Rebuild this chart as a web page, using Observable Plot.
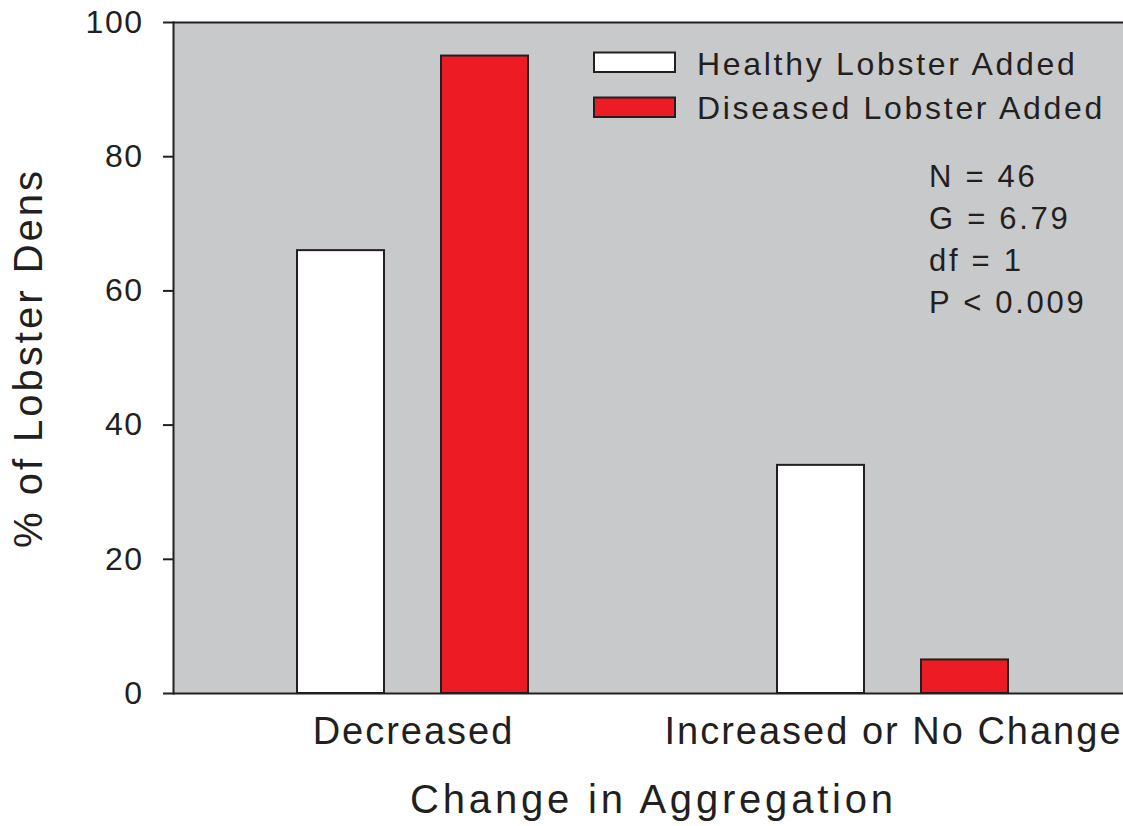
<!DOCTYPE html>
<html><head><meta charset="utf-8">
<script src="https://cdn.jsdelivr.net/npm/d3@7"></script>
<script src="https://cdn.jsdelivr.net/npm/@observablehq/plot@0.6"></script>
<style>
html,body{margin:0;padding:0;background:#fff;overflow:hidden;}
#wrap{position:relative;width:1123px;height:826px;overflow:hidden;}
#wrap svg{position:absolute;left:0;top:0;max-width:none !important;}
g[aria-label="y-axis tick label"] text{letter-spacing:1.5px;}
g[aria-label="fx-axis tick label"] text{letter-spacing:2px;}
g[aria-label="fx-axis label"] text{letter-spacing:3.8px;}
g[aria-label="y-axis label"] text{letter-spacing:3px;}
g[aria-label="frame"] rect{shape-rendering:crispEdges;}
</style></head><body><div id="wrap"></div>
<script>
// ---- data ----
const changes = ["Decreased", "Increased or No Change"];
const treatments = ["Healthy Lobster Added", "Diseased Lobster Added"];
const healthyValues = [66, 34];
const diseasedValues = [95, 5];
const treatmentColors = ["#ffffff", "#ed1c24"];
const yTicks = [0, 20, 40, 60, 80, 100];
const statsLines = ["N = 46", "G = 6.79", "df = 1", "P < 0.009"];

const data = [];
changes.forEach((c, i) => {
  data.push({change: c, treatment: treatments[0], pct: healthyValues[i]});
  data.push({change: c, treatment: treatments[1], pct: diseasedValues[i]});
});

const ink = "#231f20";
const font = "'Liberation Sans', Arial, sans-serif";

const chart = Plot.plot({
  width: 1133, height: 826,
  marginLeft: 173, marginRight: 0, marginTop: 22, marginBottom: 133,
  style: {fontFamily: font, color: ink, background: "transparent", overflow: "visible", maxWidth: "none"},
  fx: {domain: changes, padding: 0},
  x: {domain: treatments, paddingInner: 0.3945, paddingOuter: 0.858, axis: null},
  y: {domain: [0, 100]},
  color: {domain: treatments, range: treatmentColors},
  marks: [
    Plot.frame({fill: "#c8c9cb", stroke: null}),
    Plot.barY(data, {fx: "change", x: "treatment", y: "pct", fill: "treatment", stroke: ink, strokeWidth: 2}),
    Plot.ruleY([0, 100], {stroke: ink, strokeWidth: 2}),
    Plot.frame({anchor: "left", facetAnchor: "left", stroke: ink, strokeWidth: 2}),
    Plot.axisY({ticks: yTicks, tickSize: 10, tickPadding: 20, fontSize: 32, label: null, stroke: ink, strokeWidth: 2, fill: ink}),
    Plot.axisY({ticks: [], tickSize: 0, fontSize: 40, label: "% of Lobster Dens", labelAnchor: "center", labelArrow: "none", labelOffset: 160, dy: -12, fill: ink}),
    Plot.axisFx({anchor: "bottom", tickSize: 0, tickPadding: 24, fontSize: 38, label: null, fill: ink}),
    Plot.axisFx({anchor: "bottom", ticks: [], tickSize: 0, fontSize: 40, label: "Change in Aggregation", labelAnchor: "center", labelArrow: "none", labelOffset: 119, fill: ink})
  ]
});
document.getElementById("wrap").appendChild(chart);

// ---- legend & statistics overlay ----
const ov = d3.select("#wrap").append("svg")
  .attr("width", 1123).attr("height", 826)
  .style("pointer-events", "none")
  .style("font-family", font);
const leg = ov.append("g");
treatments.forEach((t, i) => {
  leg.append("rect").attr("x", 594).attr("y", 52.5 + i * 45).attr("width", 81).attr("height", 19.5)
    .attr("fill", treatmentColors[i]).attr("stroke", ink).attr("stroke-width", 2);
  leg.append("text").attr("x", 697).attr("y", 75 + i * 44).attr("font-size", 32)
    .attr("letter-spacing", "2.7px").attr("fill", ink).text(t);
});
statsLines.forEach((s, i) => {
  ov.append("text").attr("x", 929).attr("y", 187 + i * 42).attr("font-size", 31)
    .attr("letter-spacing", "2.7px").attr("fill", ink).text(s);
});
</script>
</body></html>
